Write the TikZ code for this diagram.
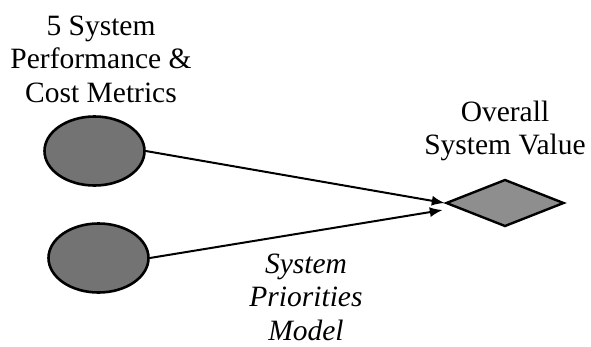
\documentclass[tikz,border=0pt]{standalone}
\usepackage{fontspec}
\setmainfont{Liberation Serif}
\usetikzlibrary{shapes.geometric,arrows.meta,calc}
\definecolor{blobgray}{HTML}{737373}
\definecolor{valgray}{HTML}{8E8E8E}

\begin{document}
\begin{tikzpicture}[x=1pt,y=-1pt,
  blob/.style={ellipse,draw,line width=2.6pt,fill=blobgray,inner sep=0pt,
    minimum width=100pt,minimum height=69pt},
  valbox/.style={diamond,draw,line width=2.4pt,fill=valgray,inner sep=0pt,
    minimum width=118pt,minimum height=47pt},
  lbl/.style={align=center,inner sep=0pt,font=\fontsize{29.5}{33.5}\selectfont},
  link/.style={line width=2pt,-{Latex[length=13pt,width=10pt]}}]

  \useasboundingbox (0,0) rectangle (591,346);

  \node[blob] (m1) at (94.5,151) {};
  \node[blob] (m2) at (98.5,258) {};
  \node[valbox] (val) at (505,203) {};

  \node[lbl] (metrics) at (101,59) {5 System\\Performance \&\\Cost Metrics};
  \node[lbl] (value) at (505,131) {Overall\\System Value};
  \node[lbl,font=\fontsize{29.5}{33.5}\selectfont\itshape] (prio) at (306,297)
    {System\\Priorities\\Model};

  \coordinate (tip) at ($(val.west)+(-2,7)$);
  \draw[link] (m1.east) -- (val.west);
  \draw[link] (m2.east) -- (tip);

\end{tikzpicture}
\end{document}
